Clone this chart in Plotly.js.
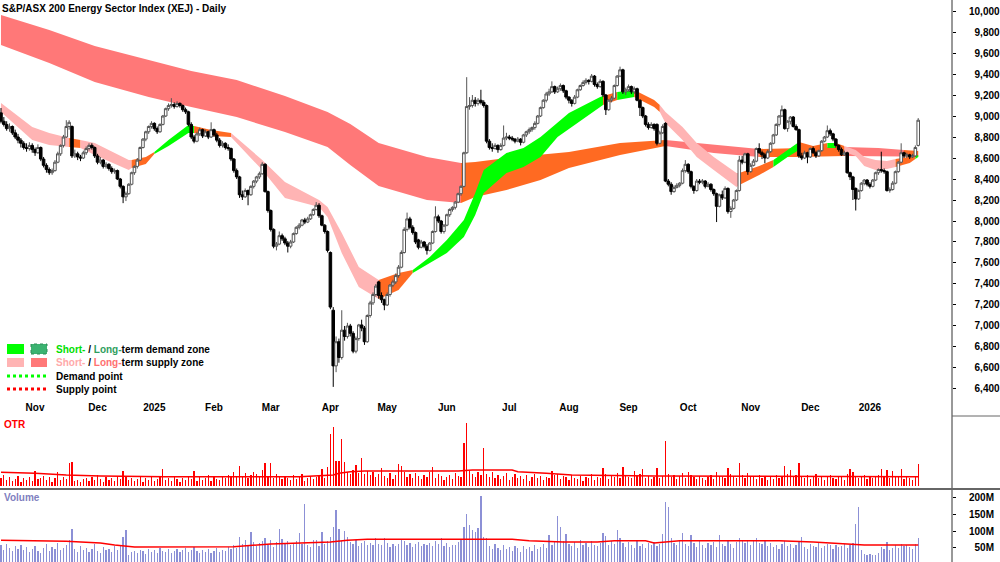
<!DOCTYPE html>
<html><head><meta charset="utf-8">
<script src="https://cdn.plot.ly/plotly-3.0.1.min.js"></script>
<style>html,body{margin:0;padding:0;background:#fff}#chart{width:1000px;height:562px}</style>
</head><body><div id="chart"></div>
<script>
// ---- month axis labels (bar index where each month label sits) ----
const months = ['Nov','Dec','2025','Feb','Mar','Apr','May','Jun','Jul','Aug','Sep','Oct','Nov','Dec','2026'];
const monthStart = [12,34,54,75,95,116,136,157,179,200,221,242,264,285,306];
const priceTicks = [6400,6600,6800,7000,7200,7400,7600,7800,8000,8200,8400,8600,8800,9000,9200,9400,9600,9800,10000];
const volTicks = [50,100,150,200];

// ---- daily candles (index points) ----
const priceOpen = [
9030,8950,8920,8880,8900,8840,8800,8770,8740,8700,
8690,8720,8680,8650,8700,8590,8530,8490,8460,8480,
8560,8640,8720,8800,8900,8900,8620,8640,8610,8600,
8650,8690,8720,8700,8620,8560,8580,8520,8540,8500,
8470,8480,8400,8330,8230,8260,8350,8460,8520,8580,
8700,8780,8850,8900,8930,8880,8850,8920,9000,9070,
9100,9110,9090,9120,9100,9060,9040,8920,8800,8760,
8830,8870,8810,8850,8800,8870,8820,8770,8720,8740,
8700,8690,8590,8480,8420,8250,8230,8290,8250,8330,
8380,8420,8450,8540,8280,8100,7920,7760,7780,7860,
7830,7790,7760,7800,7880,7940,7960,8010,7990,8020,
8060,8110,8150,8050,7960,7900,7700,7150,6620,6850,
6700,6960,6900,7000,6930,6760,6880,7010,6980,6850,
7100,7220,7300,7420,7290,7250,7200,7300,7390,7420,
7480,7560,7700,7920,8020,7940,7890,7820,7750,7800,
7760,7720,7790,7900,8040,8000,7900,7960,8060,8110,
8130,8180,8260,8330,8650,9090,9100,9150,9120,9150,
9130,9100,8760,8700,8690,8720,8680,8720,8790,8800,
8790,8780,8760,8780,8750,8820,8850,8870,8890,8930,
9000,9080,9150,9210,9230,9280,9230,9260,9290,9240,
9180,9150,9120,9180,9250,9290,9320,9340,9330,9380,
9300,9280,9330,9200,9060,9150,9170,9290,9380,9440,
9230,9250,9280,9230,9260,9150,9080,9000,8920,8890,
8920,8920,8740,8840,8930,8380,8350,8280,8320,8340,
8360,8480,8540,8470,8330,8290,8380,8370,8380,8330,
8350,8300,8260,8140,8250,8220,8310,8090,8120,8200,
8290,8580,8560,8640,8470,8530,8570,8690,8650,8630,
8600,8660,8740,8820,8920,9000,9060,8880,8950,8990,
8900,8870,8620,8600,8650,8610,8690,8650,8620,8670,
8760,8800,8860,8830,8780,8720,8680,8630,8650,8460,
8420,8310,8210,8290,8360,8390,8350,8330,8390,8460,
8490,8480,8470,8290,8300,8360,8470,8560,8650,8620,
8630,8610,8620,8720];
const priceHigh = [
9076,8990,8950,8930,8910,8870,8830,8790,8760,8740,
8750,8740,8700,8730,8710,8610,8550,8510,8500,8580,
8660,8730,8820,8960,8960,8910,8680,8660,8630,8670,
8710,8740,8740,8710,8640,8610,8590,8560,8550,8520,
8500,8490,8410,8340,8280,8360,8470,8530,8600,8710,
8790,8860,8910,8950,8940,8900,8930,9010,9080,9120,
9170,9130,9140,9130,9110,9080,9050,8940,8820,8850,
8890,8880,8870,8860,8940,8880,8840,8790,8760,8750,
8730,8700,8600,8500,8430,8290,8310,8300,8340,8390,
8430,8470,8560,8550,8290,8110,7930,7800,7900,7880,
7850,7810,7820,7890,7950,7980,8020,8030,8040,8070,
8120,8180,8170,8060,7970,7910,7710,7180,6900,6880,
7150,7000,7030,7020,6950,6900,7020,7060,7000,7110,
7240,7320,7400,7430,7320,7260,7320,7400,7440,7500,
7580,7720,7940,8080,8040,7960,7900,7830,7820,7810,
7780,7800,7910,8140,8060,8010,7970,8070,8120,8140,
8190,8270,8340,8660,9370,9180,9200,9180,9170,9250,
9150,9110,8780,8740,8740,8730,8740,8910,8840,8820,
8810,8790,8800,8790,8830,8860,8890,8900,8950,9010,
9090,9160,9230,9260,9330,9290,9280,9310,9300,9250,
9190,9160,9200,9260,9300,9340,9360,9350,9400,9390,
9320,9350,9340,9210,9160,9190,9300,9390,9470,9450,
9270,9300,9290,9280,9270,9160,9090,9010,8940,8940,
8930,8930,8860,8920,8940,8400,8370,8340,8360,8370,
8500,8580,8550,8480,8340,8400,8400,8400,8390,8370,
8360,8310,8270,8260,8290,8330,8320,8140,8210,8300,
8620,8620,8650,8650,8550,8590,8700,8740,8670,8650,
8680,8750,8830,8930,9010,9100,9070,8960,9000,9000,
8920,8880,8650,8670,8660,8700,8710,8670,8680,8770,
8810,8910,8880,8840,8790,8730,8700,8670,8660,8470,
8430,8320,8300,8370,8400,8400,8370,8400,8470,8500,
8660,8500,8480,8320,8380,8480,8570,8740,8660,8650,
8640,8640,8720,8980];
const priceLow = [
8930,8900,8860,8850,8820,8780,8740,8700,8680,8660,
8670,8650,8620,8640,8570,8510,8460,8440,8440,8470,
8550,8620,8700,8790,8870,8600,8600,8580,8570,8590,
8630,8670,8680,8600,8540,8540,8500,8500,8480,8450,
8450,8390,8310,8170,8190,8250,8340,8440,8500,8570,
8690,8760,8830,8880,8860,8830,8840,8910,8990,9050,
9080,9070,9080,9080,9040,9020,8900,8780,8740,8750,
8810,8790,8800,8780,8790,8800,8750,8700,8700,8680,
8670,8570,8460,8400,8220,8200,8220,8150,8240,8310,
8360,8400,8440,8270,8080,7900,7740,7720,7770,7810,
7770,7700,7740,7790,7870,7920,7950,7970,7980,8010,
8050,8100,8030,7950,7880,7700,7160,6420,6560,6650,
6680,6860,6880,6900,6740,6740,6860,6950,6820,6840,
7080,7200,7280,7260,7220,7150,7190,7280,7370,7400,
7460,7550,7690,7900,7920,7870,7780,7730,7740,7740,
7680,7710,7780,7890,7980,7880,7880,7950,8040,8090,
8110,8170,8240,8320,8640,9060,9080,9090,9100,9110,
9080,8740,8680,8660,8680,8650,8670,8710,8770,8770,
8760,8740,8750,8720,8740,8800,8830,8850,8870,8920,
8990,9070,9130,9190,9220,9210,9220,9240,9220,9160,
9120,9090,9110,9170,9240,9280,9300,9300,9320,9280,
9260,9270,9180,9010,9050,9130,9160,9280,9370,9210,
9200,9230,9210,9210,9140,9000,8980,8900,8870,8880,
8860,8720,8730,8830,8370,8330,8250,8270,8310,8320,
8350,8460,8450,8310,8260,8280,8350,8350,8310,8320,
8280,8240,7990,8130,8200,8210,8070,8030,8110,8190,
8280,8540,8550,8440,8460,8520,8560,8640,8590,8550,
8590,8650,8730,8810,8900,8990,8870,8850,8920,8890,
8860,8600,8580,8590,8550,8600,8640,8600,8610,8660,
8750,8790,8810,8760,8700,8660,8620,8620,8450,8390,
8200,8100,8200,8280,8340,8330,8310,8320,8380,8440,
8460,8450,8280,8270,8290,8350,8460,8550,8600,8600,
8590,8600,8610,8710];
const priceClose = [
8950,8920,8880,8900,8840,8800,8770,8740,8700,8690,
8720,8680,8650,8700,8590,8530,8490,8460,8480,8560,
8640,8720,8800,8900,8940,8620,8640,8610,8600,8650,
8690,8720,8700,8620,8560,8580,8520,8540,8500,8470,
8480,8400,8330,8230,8260,8350,8460,8520,8580,8700,
8780,8850,8900,8930,8880,8850,8920,9000,9070,9100,
9110,9090,9120,9100,9060,9040,8920,8800,8760,8830,
8870,8810,8850,8800,8870,8820,8770,8720,8740,8700,
8690,8590,8480,8420,8250,8230,8290,8250,8330,8380,
8420,8450,8540,8280,8100,7920,7760,7780,7860,7830,
7790,7760,7800,7880,7940,7960,8010,7990,8020,8060,
8110,8150,8050,7960,7900,7720,7180,6620,6850,6700,
6960,6900,7000,6930,6760,6880,7010,6980,6850,7100,
7220,7300,7380,7290,7250,7200,7300,7390,7420,7480,
7560,7700,7920,8020,7940,7890,7800,7750,7800,7760,
7720,7790,7900,8040,8000,7900,7960,8060,8110,8130,
8180,8260,8330,8650,9090,9100,9150,9120,9150,9130,
9100,8760,8700,8690,8720,8680,8720,8790,8800,8790,
8780,8760,8780,8750,8820,8850,8870,8890,8930,9000,
9080,9150,9210,9230,9280,9230,9260,9290,9240,9180,
9150,9120,9180,9250,9290,9320,9340,9330,9380,9300,
9280,9330,9200,9060,9150,9170,9290,9380,9440,9230,
9250,9280,9230,9260,9150,9080,9000,8920,8890,8920,
8880,8740,8840,8900,8380,8350,8280,8320,8340,8360,
8480,8540,8470,8330,8290,8380,8370,8380,8330,8350,
8300,8260,8140,8250,8220,8310,8090,8120,8200,8290,
8580,8560,8640,8470,8530,8570,8690,8650,8630,8600,
8660,8740,8820,8920,9000,9060,8880,8950,8990,8900,
8870,8620,8600,8650,8610,8690,8650,8620,8670,8760,
8800,8860,8830,8780,8720,8680,8630,8650,8460,8420,
8300,8210,8290,8360,8390,8350,8330,8390,8460,8490,
8480,8470,8290,8300,8360,8470,8560,8650,8620,8630,
8610,8620,8700,8960];

// ---- OTR bars (panel units) ----
const otr = [
8,11,6,9,5,7,10,4,8,6,
9,5,15,7,8,10,6,9,4,8,
14,6,9,7,23,24,5,6,4,7,
8,5,9,6,11,7,4,9,6,8,
5,10,7,15,9,6,8,5,7,9,
4,8,6,10,5,7,9,17,6,8,
5,9,7,4,8,6,10,7,15,5,
9,6,8,11,5,9,7,6,10,8,
11,9,14,10,20,9,13,8,11,14,
12,9,16,23,10,23,8,12,9,7,
10,8,6,11,7,9,12,5,8,10,
7,9,11,17,8,19,52,59,25,25,
47,24,14,12,16,21,13,28,12,15,
11,14,9,12,18,10,8,13,7,11,
22,20,14,9,12,8,13,10,7,11,
9,14,19,8,12,10,6,9,11,7,
13,10,9,43,63,15,12,9,14,11,
38,12,9,14,8,11,7,10,13,6,
9,12,8,10,7,11,5,9,12,8,
10,6,9,8,15,11,12,7,10,9,
6,11,8,7,10,5,9,8,12,6,
9,8,18,12,7,10,9,13,8,19,
11,9,8,15,10,12,17,8,10,7,
9,18,8,10,45,12,9,11,7,10,
13,8,14,11,9,7,10,8,6,9,
11,7,14,10,9,8,18,12,10,8,
23,11,8,13,10,9,7,11,8,10,
6,9,7,11,8,10,20,12,16,9,
11,23,10,8,11,7,9,12,8,10,
6,9,11,8,7,10,9,6,12,17,
14,10,8,9,11,7,10,8,9,11,
17,9,16,8,15,10,9,17,7,10,
8,6,9,22];
const otrAvgIdx = [0,12,23,35,58,105,117,119,123,128,161,166,180,182,192,201,230,323];
const otrAvg = [13.7,12.7,11,10,9.3,9.3,11,12.7,14.3,15,15,16,16,14.3,12.7,11,10,9.3];

// ---- Volume (millions) ----
const volume = [
58,45,62,50,41,55,48,60,44,52,
38,46,57,42,35,49,61,40,53,47,
66,43,51,58,74,106,48,39,55,44,
50,37,46,62,41,35,52,44,48,39,
56,43,59,82,103,30,38,42,36,45,
40,33,47,38,44,36,51,42,39,46,
35,41,48,37,43,50,38,45,52,41,
36,44,39,47,34,42,49,38,45,40,
52,46,58,49,82,61,73,55,97,68,
57,64,71,79,60,75,54,69,106,77,
66,72,58,63,70,94,61,179,59,52,
74,74,57,97,63,70,82,112,162,106,
72,100,82,68,61,74,57,66,70,59,
65,60,79,62,58,79,66,52,61,57,
63,77,70,58,65,54,61,69,56,63,
59,66,55,71,62,80,57,64,53,60,
58,67,75,112,150,118,104,97,110,203,
82,80,56,48,62,51,44,58,47,53,
42,55,49,38,57,46,52,41,60,48,
54,63,50,88,59,67,144,112,70,91,
62,55,68,49,73,58,64,52,71,60,
57,66,94,85,59,70,62,103,79,65,
54,68,60,49,72,57,63,51,66,58,
69,55,61,91,185,171,79,64,58,70,
94,62,57,88,66,53,71,60,49,64,
58,67,52,88,63,55,74,61,50,69,
80,72,66,75,59,70,78,64,61,73,
57,66,52,60,48,63,71,55,62,50,
58,68,82,54,47,61,56,52,66,49,
55,63,58,47,60,53,57,62,51,58,
66,120,171,44,33,29,31,28,30,35,
52,47,68,44,49,58,51,63,57,60,
54,48,61,79];
const volAvgIdx = [0,23,35,40,47,82,95,116,122,129,169,180,186,198,210,216,227,230,239,274,286,298,304,323];
const volAvg = [73,70,65,59,53,54,62,68,73,76,76,76,71,68,68,71,71,65,71,71,68,63,59,59];

// ---- Long-term zone edges, read at sample bars ----
const longIdx = [0,17,33,52,67,83,100,115,123,133,150,162,167,178,190,200,218,234,251,267,281,297,309,318,323];
const longTop = [9962,9819,9667,9533,9429,9343,9190,9038,8924,8743,8610,8552,8562,8600,8629,8657,8743,8771,8724,8686,8695,8705,8695,8676,8667];
const longBot = [9676,9505,9324,9181,9086,8990,8848,8705,8533,8333,8200,8171,8229,8295,8390,8505,8629,8714,8648,8610,8610,8619,8619,8614,8610];
const longSegStart = [0,162,234,267,297,318];
const longSegState = ['supply','neutral','supply','neutral','supply','neutral'];

// ---- Short-term zone edges ----
const shortIdx = [0,11,17,23,24,28,33,45,46,51,54,59,66,68,74,81,92,100,112,115,120,126,133,140,145,151,157,163,167,170,178,184,190,196,200,211,212,217,223,230,232,234,240,245,251,259,260,267,272,277,281,286,291,294,297,301,304,308,312,315,320,322,323];
const shortTop = [9124,8895,8838,8800,8790,8771,8743,8581,8581,8610,8657,8771,8914,8905,8867,8838,8581,8371,8200,8133,7886,7562,7438,7505,7533,7657,7819,8010,8267,8486,8648,8695,8800,8943,9029,9181,9190,9229,9248,9152,9105,9038,8895,8743,8610,8457,8457,8524,8581,8676,8752,8714,8743,8743,8714,8676,8610,8581,8571,8590,8610,8619,8629];
const shortBot = [9038,8771,8724,8705,8705,8695,8629,8486,8505,8543,8638,8714,8838,8838,8810,8800,8486,8219,8133,8038,7695,7371,7257,7343,7505,7600,7695,7848,8057,8267,8457,8514,8610,8800,8876,9086,9105,9152,9181,9086,9038,8933,8771,8610,8486,8324,8343,8438,8514,8610,8676,8657,8695,8695,8657,8619,8524,8486,8495,8514,8552,8590,8610];
const shortSegStart = [0,24,28,46,54,68,81,133,145,212,217,223,232,260,272,281,291,294,297,315,322];
const shortSegState = ['supply','neutral','supply','neutral','demand','neutral','supply','neutral','demand','neutral','demand','neutral','supply','neutral','demand','neutral','demand','neutral','supply','neutral','demand'];

// ---- styling ----
const FONT = '"Liberation Sans",Arial,sans-serif';
const FS = 10;
const shortColors = {supply:'#ffb4b4', neutral:'#ff6a22', demand:'#00ff00'};
const longColors = {supply:'#ff7878', neutral:'#ff6a22', demand:'#3cb371'};
const PW = 952, PH = 562;
const px = v => v / PW;
const py = v => 1 - v / PH;
const idx = priceClose.map((_, i) => i);

function bandTraces(bIdx, top, bot, segStart, segState, colors) {
  const out = [];
  for (let k = 0; k < segStart.length; k++) {
    const a = segStart[k];
    const b = k + 1 < segStart.length ? segStart[k + 1] : bIdx[bIdx.length - 1];
    const xs = [], t = [], bo = [];
    bIdx.forEach((v, j) => { if (v >= a && v <= b) { xs.push(v); t.push(top[j]); bo.push(bot[j]); } });
    out.push({type:'scatter', x:xs, y:bo, mode:'lines', line:{width:0}, hoverinfo:'skip', showlegend:false, xaxis:'x', yaxis:'y'});
    out.push({type:'scatter', x:xs, y:t, mode:'lines', line:{width:0}, fill:'tonexty', fillcolor:colors[segState[k]], hoverinfo:'skip', showlegend:false, xaxis:'x', yaxis:'y'});
  }
  return out;
}

const traces = [
  ...bandTraces(longIdx, longTop, longBot, longSegStart, longSegState, longColors),
  ...bandTraces(shortIdx, shortTop, shortBot, shortSegStart, shortSegState, shortColors),
  {type:'candlestick', x:idx, open:priceOpen, high:priceHigh, low:priceLow, close:priceClose,
   increasing:{line:{color:'#555555', width:1}, fillcolor:'#ffffff'},
   decreasing:{line:{color:'#000000', width:1}, fillcolor:'#000000'},
   whiskerwidth:0, xaxis:'x', yaxis:'y4', showlegend:false, hoverinfo:'skip'},
  {type:'bar', x:idx, y:otr, width:0.45, marker:{color:'#ff0000', line:{width:0}}, xaxis:'x2', yaxis:'y2', showlegend:false, hoverinfo:'skip'},
  {type:'scatter', mode:'lines', x:otrAvgIdx, y:otrAvg, line:{color:'#ff0000', width:1.5}, xaxis:'x2', yaxis:'y2', showlegend:false, hoverinfo:'skip'},
  {type:'bar', x:idx, y:volume, width:0.45, marker:{color:'#8c90d6', line:{width:0}}, xaxis:'x3', yaxis:'y3', showlegend:false, hoverinfo:'skip'},
  {type:'scatter', mode:'lines', x:volAvgIdx, y:volAvg, line:{color:'#ff0000', width:1.5}, xaxis:'x3', yaxis:'y3', showlegend:false, hoverinfo:'skip'}
];

const tickFont = {family:FONT, size:FS, color:'#000', weight:'bold'};
const xr = [-0.35, 334.9];
const priceRange = [6295, 10105];
const fsp = '\u2007';
const lf = c => ({family:FONT, size:FS, color:c, weight:'bold'});

const layout = {
  width:1000, height:562,
  margin:{l:0, r:48, t:0, b:0, pad:0},
  paper_bgcolor:'#ffffff', plot_bgcolor:'#ffffff',
  showlegend:false, hovermode:false,
  bargap:0, boxgap:0.1, boxgroupgap:0,
  title:{text:'<b>S&amp;P/ASX 200 Energy Sector Index (XEJ) - Daily</b>', x:0.002, xref:'container', xanchor:'left', y:1-8/562, yref:'container', yanchor:'middle', font:{family:FONT, size:FS, color:'#000'}},
  xaxis:{domain:[0,1], range:xr, anchor:'y', showgrid:false, zeroline:false, showline:false, ticks:'', tickvals:monthStart, ticktext:months, tickfont:tickFont, rangeslider:{visible:false}, fixedrange:true},
  yaxis:{domain:[py(400),1], range:priceRange, side:'right', anchor:'x', showgrid:false, zeroline:false, showline:false, ticks:'outside', ticklen:3, tickcolor:'#000', tickvals:priceTicks, ticktext:priceTicks.map(v => (v < 10000 ? fsp : '') + v.toLocaleString('en-US')), tickfont:tickFont, ticklabelstandoff:11},
  yaxis4:{overlaying:'y', range:priceRange, side:'right', anchor:'x', showgrid:false, zeroline:false, showline:false, ticks:'', showticklabels:false},
  xaxis2:{domain:[0,1], range:xr, anchor:'y2', matches:'x', showgrid:false, zeroline:false, showline:false, ticks:'', showticklabels:false},
  yaxis2:{domain:[py(488),py(418)], range:[-2,68], side:'right', anchor:'x2', showgrid:false, zeroline:false, showline:false, ticks:'', showticklabels:false},
  xaxis3:{domain:[0,1], range:xr, anchor:'y3', matches:'x', showgrid:false, zeroline:false, showline:false, ticks:'', showticklabels:false},
  yaxis3:{domain:[0,py(490)], range:[8.8,220.6], side:'right', anchor:'x3', showgrid:false, zeroline:false, showline:false, ticks:'outside', ticklen:3, tickcolor:'#000', tickvals:volTicks, ticktext:volTicks.map(v => (v < 100 ? fsp : '') + v + 'M'), tickfont:tickFont, ticklabelstandoff:11},
  shapes:[
    {type:'line', xref:'paper', yref:'paper', x0:1, x1:1, y0:0, y1:1, line:{color:'#333', width:1}},
    {type:'line', xref:'paper', yref:'paper', x0:0, x1:1000/PW, y0:py(489), y1:py(489), line:{color:'#666', width:2}},
    {type:'line', xref:'paper', yref:'paper', x0:1, x1:1000/PW, y0:py(416), y1:py(416), line:{color:'#666', width:1}},
    {type:'rect', xref:'paper', yref:'paper', x0:px(7), x1:px(24), y0:py(354), y1:py(344), fillcolor:'#00ff00', line:{width:0}},
    {type:'rect', xref:'paper', yref:'paper', x0:px(31), x1:px(47), y0:py(354), y1:py(344), fillcolor:'#3cb371', line:{color:'#2e8b57', width:1, dash:'dot'}},
    {type:'rect', xref:'paper', yref:'paper', x0:px(7), x1:px(24), y0:py(367), y1:py(358), fillcolor:'#ffb4b4', line:{width:0}},
    {type:'rect', xref:'paper', yref:'paper', x0:px(31), x1:px(47), y0:py(367), y1:py(358), fillcolor:'#ff7878', line:{width:0}},
    {type:'line', xref:'paper', yref:'paper', x0:px(7), x1:px(47), y0:py(376), y1:py(376), line:{color:'#00ff00', width:3, dash:'dot'}},
    {type:'line', xref:'paper', yref:'paper', x0:px(7), x1:px(47), y0:py(389), y1:py(389), line:{color:'#ff0000', width:3, dash:'dot'}}
  ],
  annotations:[
    {xref:'paper', yref:'paper', x:px(54), y:py(349), xanchor:'left', yanchor:'middle', showarrow:false, font:lf('#000'),
     text:'<span style="color:#00e000">Short-</span> / <span style="color:#2e9e5e">Long-</span>term demand zone'},
    {xref:'paper', yref:'paper', x:px(54), y:py(362), xanchor:'left', yanchor:'middle', showarrow:false, font:lf('#000'),
     text:'<span style="color:#ffaaaa">Short-</span> / <span style="color:#ff7070">Long-</span>term supply zone'},
    {xref:'paper', yref:'paper', x:px(54), y:py(376), xanchor:'left', yanchor:'middle', showarrow:false, font:lf('#000'), text:'Demand point'},
    {xref:'paper', yref:'paper', x:px(54), y:py(389), xanchor:'left', yanchor:'middle', showarrow:false, font:lf('#000'), text:'Supply point'},
    {xref:'paper', yref:'paper', x:px(2), y:py(424), xanchor:'left', yanchor:'middle', showarrow:false, font:lf('#ff0000'), text:'OTR'},
    {xref:'paper', yref:'paper', x:px(2), y:py(497), xanchor:'left', yanchor:'middle', showarrow:false, font:lf('#8080c0'), text:'Volume'}
  ]
};

Plotly.newPlot('chart', traces, layout, {staticPlot:true, displayModeBar:false});
</script>
</body></html>
